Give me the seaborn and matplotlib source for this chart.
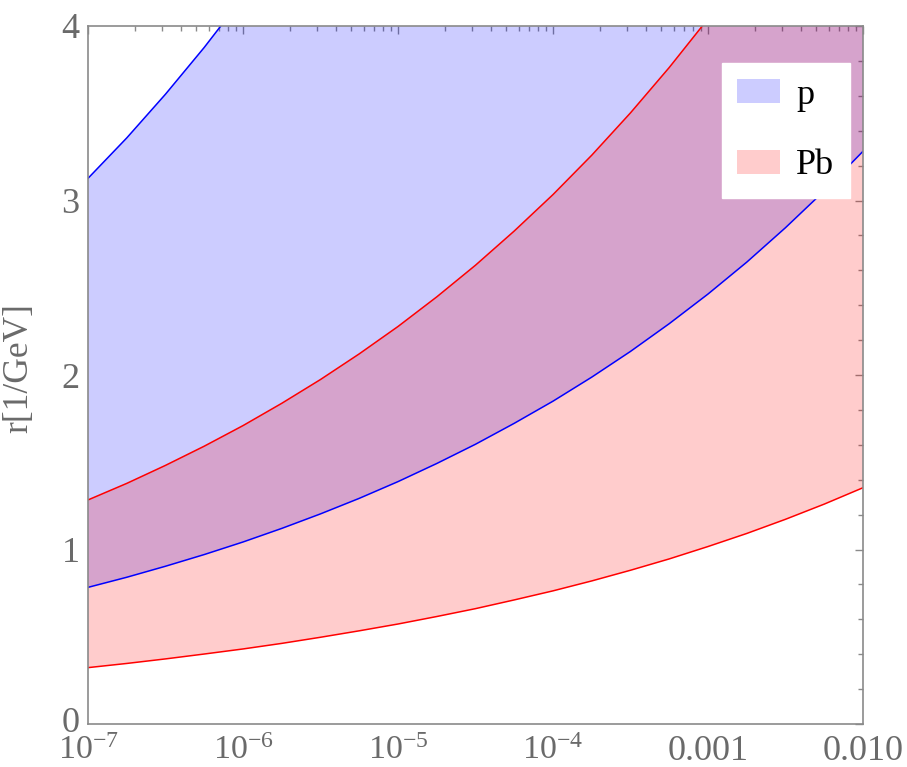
import matplotlib
matplotlib.use("Agg")
import matplotlib.pyplot as plt
import seaborn as sns
import pandas as pd
from matplotlib.patches import Patch
from matplotlib.transforms import ScaledTranslation
from matplotlib.ticker import FixedLocator, FixedFormatter, MultipleLocator, LogLocator, NullFormatter

# ---- data ----
x_vals = [1.0e-7, 1.78e-7, 3.16e-7, 5.62e-7,
          1.0e-6, 1.78e-6, 3.16e-6, 5.62e-6,
          1.0e-5, 1.78e-5, 3.16e-5, 5.62e-5,
          1.0e-4, 1.78e-4, 3.16e-4, 5.62e-4,
          1.0e-3, 1.78e-3, 3.16e-3, 5.62e-3, 1.0e-2]

p_low = [0.783, 0.841, 0.904, 0.971, 1.043, 1.121, 1.204, 1.293, 1.389, 1.493,
         1.603, 1.723, 1.850, 1.988, 2.135, 2.294, 2.464, 2.647, 2.844, 3.055, 3.282]
p_high = [3.127, 3.359, 3.609, 3.877, 4.165, 4.474, 4.807, 5.164, 5.548, 5.960,
          6.403, 6.878, 7.389, 7.938, 8.528, 9.161, 9.842, 10.57, 11.36, 12.20, 13.11]
pb_low = [0.323, 0.347, 0.373, 0.401, 0.430, 0.462, 0.497, 0.534, 0.573, 0.616,
          0.661, 0.711, 0.763, 0.820, 0.881, 0.946, 1.017, 1.092, 1.173, 1.260, 1.354]
pb_high = [1.284, 1.379, 1.482, 1.592, 1.710, 1.838, 1.974, 2.121, 2.278, 2.448,
           2.629, 2.825, 3.034, 3.260, 3.502, 3.762, 4.041, 4.341, 4.664, 5.010, 5.383]

series_names = ["p", "Pb"]
x_tick_vals = [1e-7, 1e-6, 1e-5, 1e-4, 1e-3, 1e-2]
x_tick_labels = [r"$10^{-7}$", r"$10^{-6}$", r"$10^{-5}$", r"$10^{-4}$", "0.001", "0.010"]
y_tick_vals = [0, 1, 2, 3, 4]
y_label = "r[1/GeV]"

# ---- style ----
sns.set_theme(style="white")
plt.rcParams["font.family"] = ["Liberation Serif", "DejaVu Serif"]
plt.rcParams["mathtext.fontset"] = "custom"
plt.rcParams["mathtext.rm"] = "Liberation Serif"
plt.rcParams["mathtext.it"] = "Liberation Serif:italic"
plt.rcParams["mathtext.bf"] = "Liberation Serif:bold"

frame_col = "#8a8a8a"
label_col = "#6a6a6a"

fig = plt.figure(figsize=(9.07, 7.67), dpi=100)
ax = fig.add_axes([88 / 907, 1 - 724 / 767, 775 / 907, 698 / 767])

df = pd.DataFrame({"x": x_vals, "p_low": p_low, "p_high": p_high,
                   "pb_low": pb_low, "pb_high": pb_high})

ax.fill_between(df["x"], df["p_low"], df["p_high"], color=(0, 0, 1), alpha=0.2, linewidth=0)
ax.fill_between(df["x"], df["pb_low"], df["pb_high"], color=(1, 0, 0), alpha=0.2, linewidth=0)

for col, c in [("p_low", "blue"), ("p_high", "blue"), ("pb_low", "red"), ("pb_high", "red")]:
    sns.lineplot(data=df, x="x", y=col, ax=ax, color=c, linewidth=1.1, estimator=None, sort=True)

ax.set_xscale("log")
ax.set_xlim(1e-7, 1e-2)
ax.set_ylim(0, 4)

ax.xaxis.set_major_locator(FixedLocator(x_tick_vals))
ax.xaxis.set_major_formatter(FixedFormatter(x_tick_labels))
ax.xaxis.set_minor_locator(LogLocator(base=10, subs=[2, 3, 4, 5, 6, 7, 8, 9], numticks=20))
ax.xaxis.set_minor_formatter(NullFormatter())
ax.yaxis.set_major_locator(FixedLocator(y_tick_vals))
ax.yaxis.set_minor_locator(MultipleLocator(0.2))

ax.tick_params(which="both", direction="in", top=True, right=True, color=frame_col, width=1.0)
ax.tick_params(which="major", length=5.5, labelsize=26, labelcolor=label_col)
ax.tick_params(axis="x", which="major", pad=8)
ax.tick_params(axis="y", which="major", pad=6)
ax.tick_params(which="minor", length=3.3)
for s in ax.spines.values():
    s.set_color(frame_col)
    s.set_linewidth(1.2)

ax.set_xlabel("")
ax.set_ylabel(y_label, fontsize=25.5, color=label_col)
ax.yaxis.set_label_coords(-0.068, 0.51)

handles = [Patch(facecolor=(0.8, 0.8, 1.0), edgecolor="none"),
           Patch(facecolor=(1.0, 0.8, 0.8), edgecolor="none")]
leg = ax.legend(handles, series_names, loc="upper right", bbox_to_anchor=(0.983, 0.947),
                borderaxespad=0, frameon=True, fancybox=False, framealpha=1,
                facecolor="white", edgecolor="white", fontsize=26,
                handlelength=1.17, handleheight=0.64, handletextpad=0.46,
                labelspacing=1.05, borderpad=0.43)
for t in leg.get_texts():
    t.set_color("black")

# power-of-ten labels slightly smaller; "0" label nudged up to clear them
fig.canvas.draw()
for lbl in ax.xaxis.get_ticklabels()[:4]:
    lbl.set_fontsize(24.5)
zero_lbl = ax.yaxis.get_ticklabels()[0]
zero_lbl.set_transform(zero_lbl.get_transform() + ScaledTranslation(0, 3 / 72, fig.dpi_scale_trans))

fig.savefig("out.png", dpi=100, facecolor="white")
